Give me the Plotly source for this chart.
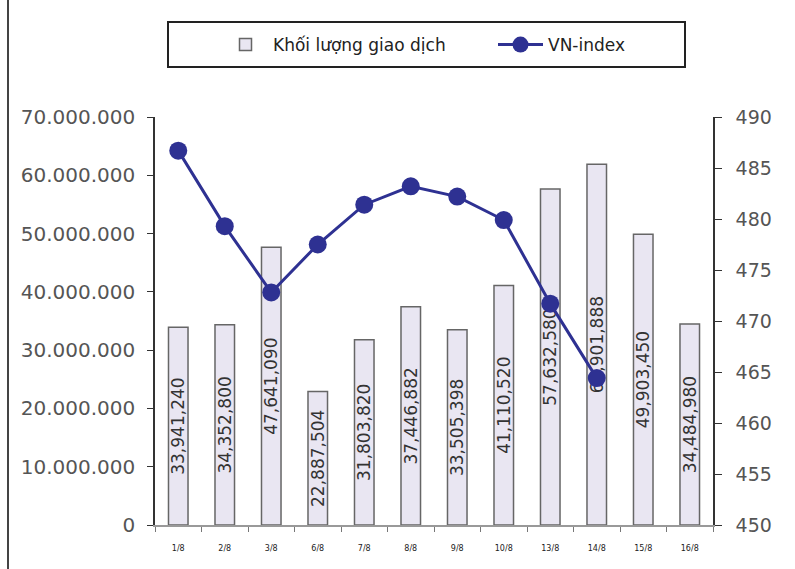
import plotly.graph_objects as go

categories = ["1/8", "2/8", "3/8", "6/8", "7/8", "8/8", "9/8", "10/8", "13/8", "14/8", "15/8", "16/8"]
volume = [33941240, 34352800, 47641090, 22887504, 31803820, 37446882, 33505398,
          41110520, 57632580, 61901888, 49903450, 34484980]
vn_index = [486.7, 479.3, 472.8, 477.5, 481.4, 483.2, 482.2, 479.9, 471.7, 464.4, None, None]
volume_labels = [f"{v:,}" for v in volume]

L, R, T, B = 155, 82, 117, 44
W, H = 795, 569
ph = H - T - B
pw = W - L - R


def px_x(p):
    return (p - L) / pw


def px_y(p):
    return (H - B - p) / ph


fig = go.Figure()
fig.add_trace(go.Bar(
    x=categories, y=volume, name="Khối lượng giao dịch",
    marker=dict(color="#E9E6F2", line=dict(color="#666666", width=1.5)),
    text=volume_labels, textposition="inside", insidetextanchor="middle",
    textangle=-90, constraintext="none",
    insidetextfont=dict(family="DejaVu Sans", size=17, color="#333333"),
    yaxis="y",
))
fig.add_trace(go.Scatter(
    x=categories, y=vn_index, name="VN-index", mode="lines+markers",
    line=dict(color="#2E3192", width=3),
    marker=dict(color="#2E3192", size=18),
    yaxis="y2",
))

fig.update_layout(
    width=W, height=H,
    margin=dict(l=L, r=R, t=T, b=B),
    paper_bgcolor="white", plot_bgcolor="white",
    separators=",.",
    bargap=0.58,
    font=dict(family="DejaVu Sans", color="#333333"),
    xaxis=dict(
        type="category", showgrid=False, showline=True, linecolor="#999999", linewidth=2,
        ticks="outside", tickson="boundaries", ticklen=5, tickcolor="#777777",
        tickfont=dict(size=8, color="#222222"), ticklabelstandoff=14,
        range=[-0.5, len(categories) - 0.5],
    ),
    yaxis=dict(
        range=[0, 70000000], dtick=10000000, tickformat=",d",
        showgrid=False, showline=True, linecolor="#333333", linewidth=1.5,
        ticks="outside", ticklen=6, tickcolor="#333333", ticklabelstandoff=8,
        tickfont=dict(size=20, color="#555555"), zeroline=False,
    ),
    yaxis2=dict(
        range=[450, 490], dtick=5, overlaying="y", side="right",
        showgrid=False, showline=True, linecolor="#333333", linewidth=1.5,
        ticks="outside", ticklen=7, tickcolor="#333333", ticklabelstandoff=10,
        tickfont=dict(size=19, color="#555555"), zeroline=False,
    ),
    legend=dict(
        orientation="h", xref="container", yref="container",
        x=218 / W, xanchor="left", y=1 - 45 / H, yanchor="middle",
        borderwidth=0, bgcolor="rgba(255,255,255,0)",
        font=dict(size=17, color="#222222"), entrywidth=215, itemwidth=45,
    ),
    shapes=[
        dict(type="line", xref="paper", yref="paper",
             x0=px_x(8), x1=px_x(8), y0=px_y(H), y1=px_y(0),
             line=dict(color="#444444", width=2)),
        dict(type="rect", xref="paper", yref="paper",
             x0=px_x(168), x1=px_x(685), y0=px_y(67), y1=px_y(22),
             line=dict(color="#222222", width=2), fillcolor="rgba(0,0,0,0)"),
    ],
)

fig.write_html("out.html")
